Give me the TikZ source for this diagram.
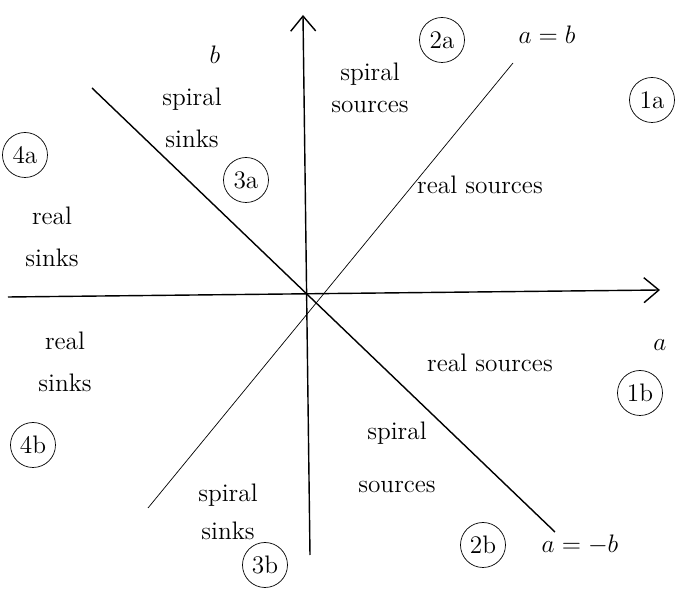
\documentclass[tikz,border=0pt]{standalone}
\usepackage{amsmath,amssymb}
\usetikzlibrary{arrows.meta}

\begin{document}
\begin{tikzpicture}[every node/.style={font=\Large}, >={Straight Barb[length=3mm,width=5mm]},
	region/.style={align=center},
	tag/.style={draw, circle, thin, inner sep=1pt, minimum size=0.9cm, font=\Large}]
	\useasboundingbox (-6.1,-6.24) rectangle (7.52,5.86);
	\coordinate (xs) at (-5.94,-0.08);
	\coordinate (xe) at (7.1,0.06);
	\coordinate (ys) at (0.1,-5.24);
	\coordinate (ye) at (-0.04,5.56);
	\coordinate (ps) at (-3.14,-4.3);
	\coordinate (pe) at (4.16,4.6);
	\coordinate (ms) at (-4.26,4.1);
	\coordinate (me) at (5.0,-4.78);
	\draw[->, thick] (xs) -- (xe);
	\draw[->, thick] (ys) -- (ye);
	\draw[thin] (ps) -- (pe);
	\draw[thick] (ms) -- (me);
	\node (alab) at (7.1,-1.04) {$a$};
	\node (blab) at (-1.8,4.76) {$b$};
	\node (pos) at (4.84,5.16) {$a=b$};
	\node (neg) at (5.5,-5.04) {$a=-b$};
	\node[region] (ssinkA) at (-2.26,3.5) {spiral\\[6pt]sinks};
	\node[region] (ssrcA) at (1.3,4.1) {spiral\\sources};
	\node[region] (rsrcA) at (3.5,2.16) {real sources};
	\node[region] (rsinkA) at (-5.06,1.12) {real\\[6pt]sinks};
	\node[region] (rsinkB) at (-4.8,-1.38) {real\\[6pt]sinks};
	\node[region] (rsrcB) at (3.7,-1.4) {real sources};
	\node[region] (ssrcB) at (1.84,-3.28) {spiral\\[12pt]sources};
	\node[region] (ssinkB) at (-1.54,-4.38) {spiral\\[4pt]sinks};
	\node[tag] (t1a) at (6.94,3.86) {1a};
	\node[tag] (t1b) at (6.7,-2.0) {1b};
	\node[tag] (t2a) at (2.74,5.06) {2a};
	\node[tag] (t2b) at (3.56,-5.04) {2b};
	\node[tag] (t3a) at (-1.18,2.26) {3a};
	\node[tag] (t3b) at (-0.8,-5.44) {3b};
	\node[tag] (t4a) at (-5.6,2.76) {4a};
	\node[tag] (t4b) at (-5.44,-3.04) {4b};
\end{tikzpicture}
\end{document}
